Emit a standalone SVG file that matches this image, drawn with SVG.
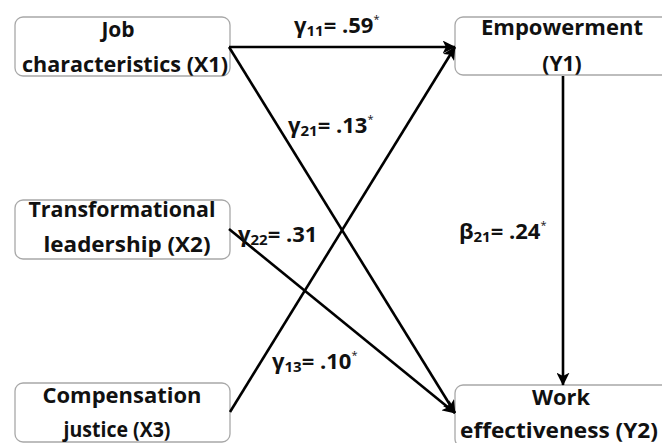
<svg xmlns="http://www.w3.org/2000/svg" width="662" height="443" viewBox="0 0 662 443">
<defs>
<style>
.box{fill:#fff;stroke:#a8a8a8;stroke-width:1.3}
.t{font-family:"Open Sans","Noto Sans","Liberation Sans",sans-serif;font-weight:bold;font-size:21px;fill:#111;text-anchor:middle}
.lab{font-family:"Open Sans","Noto Sans","Liberation Sans",sans-serif;font-weight:bold;font-size:22px;fill:#111}
.sub{font-size:15px}
.star{font-size:11px;font-weight:normal}
.c{stroke:#000;stroke-width:2.6;fill:none}
</style>
<marker id="ah" viewBox="0 0 10 10" refX="9.5" refY="5" markerWidth="5" markerHeight="5" orient="auto" markerUnits="strokeWidth">
<path d="M0,0 L10,5 L0,10 L2.5,5 z" fill="#000"/>
</marker>
</defs>
<rect width="662" height="443" fill="#fff"/>
<g id="X1">
<rect class="box" x="15" y="17" width="215" height="59" rx="8"/>
<text class="t" x="118" y="37">Job</text>
<text class="t" x="125" y="72" textLength="206" lengthAdjust="spacingAndGlyphs">characteristics (X1)</text>
</g>
<g id="Y1">
<rect class="box" x="455" y="17" width="215" height="58" rx="8"/>
<text class="t" x="562" y="35" textLength="162" lengthAdjust="spacingAndGlyphs">Empowerment</text>
<text class="t" x="562" y="71">(Y1)</text>
</g>
<g id="X2">
<rect class="box" x="15" y="200" width="215" height="59" rx="8"/>
<text class="t" x="122" y="217" textLength="187" lengthAdjust="spacingAndGlyphs">Transformational</text>
<text class="t" x="127" y="252" textLength="167" lengthAdjust="spacingAndGlyphs">leadership (X2)</text>
</g>
<g id="X3">
<rect class="box" x="15" y="383" width="215" height="59" rx="8"/>
<text class="t" x="122" y="403" textLength="159" lengthAdjust="spacingAndGlyphs">Compensation</text>
<text class="t" x="117" y="437" textLength="107" lengthAdjust="spacingAndGlyphs">justice (X3)</text>
</g>
<g id="Y2">
<rect class="box" x="455" y="385" width="215" height="62" rx="8"/>
<text class="t" x="561" y="405" textLength="58" lengthAdjust="spacingAndGlyphs">Work</text>
<text class="t" x="559" y="438" textLength="198" lengthAdjust="spacingAndGlyphs">effectiveness (Y2)</text>
</g>
<g id="connectors">
<line class="c" x1="229" y1="47" x2="455" y2="47" marker-end="url(#ah)"/>
<line class="c" x1="229" y1="47" x2="455" y2="413" marker-end="url(#ah)"/>
<line class="c" x1="230" y1="412" x2="455" y2="47" marker-end="url(#ah)"/>
<line class="c" x1="229" y1="229" x2="455" y2="413" marker-end="url(#ah)"/>
<line class="c" x1="563" y1="76" x2="563" y2="385" marker-end="url(#ah)"/>
</g>
<g id="labels">
<text class="lab" x="294" y="33">γ<tspan class="sub" dy="3">11</tspan><tspan dy="-3">=  .59</tspan><tspan class="star" dy="-10">*</tspan></text>
<text class="lab" x="288" y="133">γ<tspan class="sub" dy="3">21</tspan><tspan dy="-3">=  .13</tspan><tspan class="star" dy="-10">*</tspan></text>
<text class="lab" x="238" y="242">γ<tspan class="sub" dy="3">22</tspan><tspan dy="-3">=  .31</tspan></text>
<text class="lab" x="459" y="239">β<tspan class="sub" dy="3">21</tspan><tspan dy="-3">=  .24</tspan><tspan class="star" dy="-10">*</tspan></text>
<text class="lab" x="272" y="369">γ<tspan class="sub" dy="3">13</tspan><tspan dy="-3">=  .10</tspan><tspan class="star" dy="-10">*</tspan></text>
</g>
</svg>
